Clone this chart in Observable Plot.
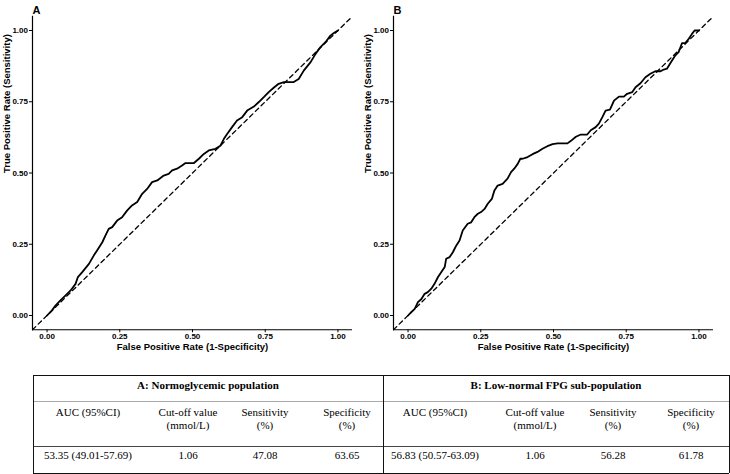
<!DOCTYPE html>
<html><head><meta charset="utf-8">
<script src="https://cdn.jsdelivr.net/npm/d3@7"></script>
<script src="https://cdn.jsdelivr.net/npm/@observablehq/plot@0.6"></script>
<style>
body{margin:0;background:#fff;}
#root{position:relative;width:730px;height:474px;overflow:hidden;background:#fff;}
.panel{position:absolute;top:0;}
.tbl{position:absolute;left:0;top:0;width:730px;height:474px;font-family:"Liberation Serif","Times New Roman",serif;font-size:11px;color:#000;}
.cell{position:absolute;transform:translate(-50%,-50%);white-space:nowrap;text-align:center;line-height:12px;}
.hl{position:absolute;height:0;}
.vl{position:absolute;width:0;}
</style></head><body><div id="root"></div>
<script>
// ---- data ----
const panelLabels = ["A", "B"];
const xTitle = "False Positive Rate (1-Specificity)";
const yTitle = "True Positive Rate (Sensitivity)";
const axisTicks = [0, 0.25, 0.5, 0.75, 1];
const diagonal = [-0.05, 1.05];

const fprA = [0, 0.017, 0.029, 0.046, 0.063, 0.081, 0.098, 0.106, 0.121, 0.144, 0.161, 0.172, 0.190, 0.201, 0.212, 0.224, 0.241, 0.258, 0.275, 0.292, 0.310, 0.327, 0.344, 0.361, 0.379, 0.401, 0.418, 0.430, 0.447, 0.464, 0.476, 0.505, 0.522, 0.539, 0.556, 0.579, 0.596, 0.608, 0.619, 0.636, 0.653, 0.671, 0.688, 0.711, 0.728, 0.745, 0.762, 0.779, 0.796, 0.814, 0.848, 0.865, 0.883, 0.906, 0.923, 0.940, 0.957, 0.974, 0.986, 1];
const tprA = [0, 0.018, 0.035, 0.053, 0.070, 0.088, 0.111, 0.135, 0.152, 0.181, 0.211, 0.228, 0.257, 0.281, 0.304, 0.310, 0.333, 0.345, 0.368, 0.386, 0.398, 0.427, 0.444, 0.468, 0.474, 0.491, 0.497, 0.509, 0.515, 0.526, 0.535, 0.535, 0.550, 0.567, 0.579, 0.585, 0.596, 0.620, 0.637, 0.661, 0.684, 0.696, 0.719, 0.733, 0.749, 0.766, 0.784, 0.799, 0.813, 0.819, 0.819, 0.830, 0.860, 0.889, 0.918, 0.942, 0.959, 0.982, 0.991, 1];

const fprB = [0, 0.011, 0.023, 0.034, 0.046, 0.057, 0.068, 0.080, 0.091, 0.103, 0.114, 0.126, 0.131, 0.143, 0.154, 0.166, 0.177, 0.188, 0.205, 0.217, 0.228, 0.240, 0.251, 0.263, 0.274, 0.288, 0.297, 0.308, 0.325, 0.342, 0.354, 0.365, 0.377, 0.386, 0.394, 0.411, 0.428, 0.445, 0.462, 0.479, 0.497, 0.514, 0.548, 0.559, 0.577, 0.594, 0.616, 0.628, 0.645, 0.656, 0.668, 0.679, 0.694, 0.708, 0.725, 0.742, 0.753, 0.771, 0.782, 0.799, 0.816, 0.833, 0.850, 0.868, 0.879, 0.890, 0.902, 0.919, 0.930, 0.942, 0.953, 0.965, 0.976, 0.985, 1];
const tprB = [0, 0.012, 0.023, 0.047, 0.058, 0.076, 0.082, 0.094, 0.111, 0.135, 0.152, 0.170, 0.199, 0.205, 0.222, 0.246, 0.263, 0.298, 0.322, 0.327, 0.345, 0.357, 0.363, 0.374, 0.392, 0.409, 0.439, 0.456, 0.462, 0.480, 0.503, 0.515, 0.532, 0.550, 0.550, 0.556, 0.566, 0.574, 0.585, 0.594, 0.601, 0.604, 0.604, 0.612, 0.627, 0.635, 0.635, 0.650, 0.661, 0.673, 0.696, 0.719, 0.722, 0.754, 0.768, 0.768, 0.778, 0.784, 0.801, 0.815, 0.836, 0.848, 0.857, 0.857, 0.863, 0.866, 0.886, 0.913, 0.924, 0.956, 0.956, 0.971, 0.988, 1, 1];

const tableGroups = ["A: Normoglycemic population", "B: Low-normal FPG sub-population"];
const tableHeaders = [["AUC (95%CI)"], ["Cut-off value", "(mmol/L)"], ["Sensitivity", "(%)"], ["Specificity", "(%)"]];
const tableRowA = ["53.35 (49.01-57.69)", "1.06", "47.08", "63.65"];
const tableRowB = ["56.83 (50.57-63.09)", "1.06", "56.28", "61.78"];

// ---- layout ----
const root = document.getElementById("root");
const sansFont = "'Liberation Sans', Arial, Helvetica, sans-serif";

function panel(fpr, tpr, label) {
  return Plot.plot({
    width: 361, height: 356,
    marginLeft: 32, marginRight: 9, marginTop: 15.75, marginBottom: 26.75,
    x: {domain: [-0.05, 1.05]},
    y: {domain: [-0.05, 1.05]},
    style: {fontFamily: sansFont, fontSize: "8px", fontWeight: "bold", color: "#000", background: "transparent", overflow: "visible"},
    marks: [
      Plot.axisX({ticks: axisTicks, tickFormat: d3.format(".2f"), tickSize: 3, tickPadding: 1, label: null}),
      Plot.axisY({ticks: axisTicks, tickFormat: d3.format(".2f"), tickSize: 3, tickPadding: 1.5, label: null}),
      Plot.ruleX([-0.05], {strokeWidth: 1.2}),
      Plot.ruleY([-0.05], {strokeWidth: 1.2}),
      Plot.line(diagonal, {x: d => d, y: d => d, strokeDasharray: "4.5,3.5", strokeWidth: 1.3, stroke: "#000"}),
      Plot.line(fpr, {x: fpr, y: tpr, strokeWidth: 1.8, stroke: "#000"}),
      Plot.text([xTitle], {text: d => d, frameAnchor: "bottom", dy: 20, fontSize: 9.5, fontWeight: "bold"}),
      Plot.text([yTitle], {text: d => d, frameAnchor: "left", dx: -26, rotate: -90, fontSize: 9.5, fontWeight: "bold"}),
      Plot.text([label], {text: d => d, frameAnchor: "top-left", dy: -10.5, textAnchor: "start", fontSize: 11, fontWeight: "bold"})
    ]
  });
}

const pA = panel(fprA, tprA, panelLabels[0]);
pA.classList.add("panel"); pA.style.left = "0px";
const pB = panel(fprB, tprB, panelLabels[1]);
pB.classList.add("panel"); pB.style.left = "361px";
root.appendChild(pA);
root.appendChild(pB);

// ---- table ----
const tbl = document.createElement("div");
tbl.className = "tbl";
root.appendChild(tbl);
function hline(x1, x2, y, color, w) {
  const d = document.createElement("div");
  d.className = "hl";
  d.style.left = x1 + "px"; d.style.width = (x2 - x1) + "px"; d.style.top = (y - w / 2) + "px";
  d.style.borderTop = w + "px solid " + color;
  tbl.appendChild(d);
}
function vline(x, y1, y2, color, w) {
  const d = document.createElement("div");
  d.className = "vl";
  d.style.left = (x - w / 2) + "px"; d.style.top = y1 + "px"; d.style.height = (y2 - y1) + "px";
  d.style.borderLeft = w + "px solid " + color;
  tbl.appendChild(d);
}
function cell(text, x, y, bold) {
  const d = document.createElement("div");
  d.className = "cell";
  d.textContent = text;
  d.style.left = x + "px"; d.style.top = y + "px";
  if (bold) d.style.fontWeight = "bold";
  tbl.appendChild(d);
}
const tLeft = 33, tMid = 383, tRight = 729, tTop = 375, tBottom = 473;
hline(tLeft, tRight, tTop, "#111", 1);
hline(tLeft, tRight, 401.5, "#aaa", 1);
hline(tLeft, tRight, 446, "#444", 1);
hline(tLeft, tRight, tBottom, "#111", 1);
vline(tLeft, tTop, tBottom, "#111", 1);
vline(tMid, tTop, tBottom, "#111", 1);
vline(tRight, tTop, tBottom, "#111", 1);

const groupCenters = [[88, 188, 265, 347], [435, 535, 613, 691]];
const groupTitleX = [(tLeft + tMid) / 2, (tMid + tRight) / 2];
const rows = [tableRowA, tableRowB];
tableGroups.forEach((g, gi) => {
  cell(g, groupTitleX[gi], 384.5, true);
  tableHeaders.forEach((lines, ci) => {
    lines.forEach((ln, li) => cell(ln, groupCenters[gi][ci], 411.5 + li * 13.5, false));
  });
  rows[gi].forEach((v, ci) => cell(v, groupCenters[gi][ci], 454.5, false));
});
</script>
</body></html>
